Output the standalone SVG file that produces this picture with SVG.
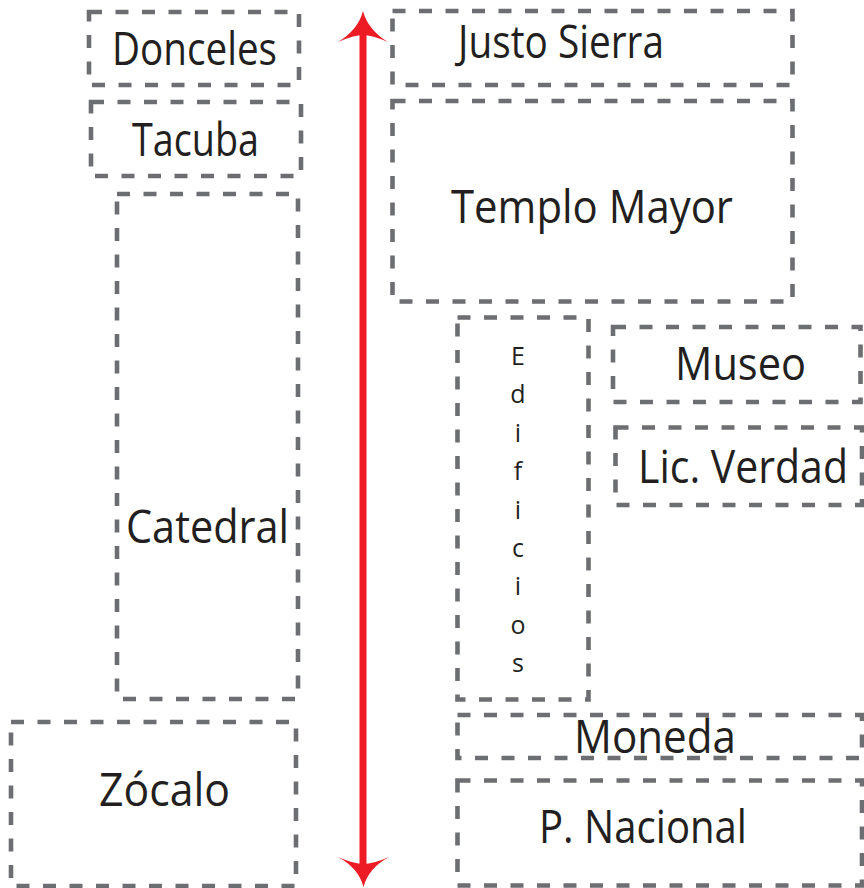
<svg xmlns="http://www.w3.org/2000/svg" width="864" height="888" viewBox="0 0 864 888">
<style>
.box{fill:none;stroke:#6d6e71;stroke-width:4.6;stroke-dasharray:13 13.5}
.lbl{font-family:"Open Sans","Noto Sans","Liberation Sans",sans-serif;font-size:45px;fill:#231f20}
.sm{font-family:"Open Sans","Noto Sans","Liberation Sans",sans-serif;font-size:25px;fill:#231f20;text-anchor:middle}
.arr{fill:#ed1c24}
</style>
<rect width="864" height="888" fill="#ffffff"/>
<g id="connectors">
<rect class="arr" x="359.5" y="34" width="7" height="830"/>
<path class="arr" d="M363,11 Q368,30 388,42 Q372,35 363,35 Q354,35 338,42 Q358,30 363,11 Z"/>
<path class="arr" d="M363.5,887 Q368.5,868 389,857 Q373,864 363.5,864 Q354,864 338,857 Q358.5,868 363.5,887 Z"/>
</g>
<g id="donceles">
<rect class="box" x="89" y="12" width="210" height="73"/>
<text class="lbl" x="112" y="65" textLength="165" lengthAdjust="spacingAndGlyphs">Donceles</text>
</g>
<g id="tacuba">
<rect class="box" x="91" y="102" width="210" height="74"/>
<text class="lbl" x="132" y="156" textLength="127" lengthAdjust="spacingAndGlyphs">Tacuba</text>
</g>
<g id="catedral">
<rect class="box" x="117" y="194" width="181" height="505"/>
<text class="lbl" x="126" y="543" textLength="163" lengthAdjust="spacingAndGlyphs">Catedral</text>
</g>
<g id="zocalo">
<rect class="box" x="11" y="722" width="285" height="164"/>
<text class="lbl" x="99" y="806" textLength="131" lengthAdjust="spacingAndGlyphs">Zócalo</text>
</g>
<g id="justo-sierra">
<rect class="box" x="392.5" y="11" width="400" height="74"/>
<text class="lbl" x="458" y="58" textLength="206" lengthAdjust="spacingAndGlyphs">Justo Sierra</text>
</g>
<g id="templo-mayor">
<rect class="box" x="392.5" y="101" width="400" height="200.5"/>
<text class="lbl" x="451" y="223" textLength="282" lengthAdjust="spacingAndGlyphs">Templo Mayor</text>
</g>
<g id="edificios">
<rect class="box" x="457.5" y="317.5" width="131" height="382"/>
<text class="sm" x="518" y="365">E</text>
<text class="sm" x="518" y="403.4">d</text>
<text class="sm" x="518" y="441.8">i</text>
<text class="sm" x="518" y="480.2">f</text>
<text class="sm" x="518" y="518.6">i</text>
<text class="sm" x="518" y="557">c</text>
<text class="sm" x="518" y="595.4">i</text>
<text class="sm" x="518" y="633.8">o</text>
<text class="sm" x="518" y="672.2">s</text>
</g>
<g id="museo">
<rect class="box" x="613" y="327" width="247.5" height="75"/>
<text class="lbl" x="675" y="380" textLength="131" lengthAdjust="spacingAndGlyphs">Museo</text>
</g>
<g id="lic-verdad">
<rect class="box" x="615.5" y="427.5" width="246.5" height="77.5"/>
<text class="lbl" x="638" y="483" textLength="210" lengthAdjust="spacingAndGlyphs">Lic. Verdad</text>
</g>
<g id="moneda">
<rect class="box" x="457.5" y="715" width="404.5" height="43"/>
<text class="lbl" x="574" y="753" textLength="162" lengthAdjust="spacingAndGlyphs">Moneda</text>
</g>
<g id="p-nacional">
<rect class="box" x="457.5" y="780.5" width="404.5" height="105"/>
<text class="lbl" x="539" y="843" textLength="208" lengthAdjust="spacingAndGlyphs">P. Nacional</text>
</g>
</svg>
